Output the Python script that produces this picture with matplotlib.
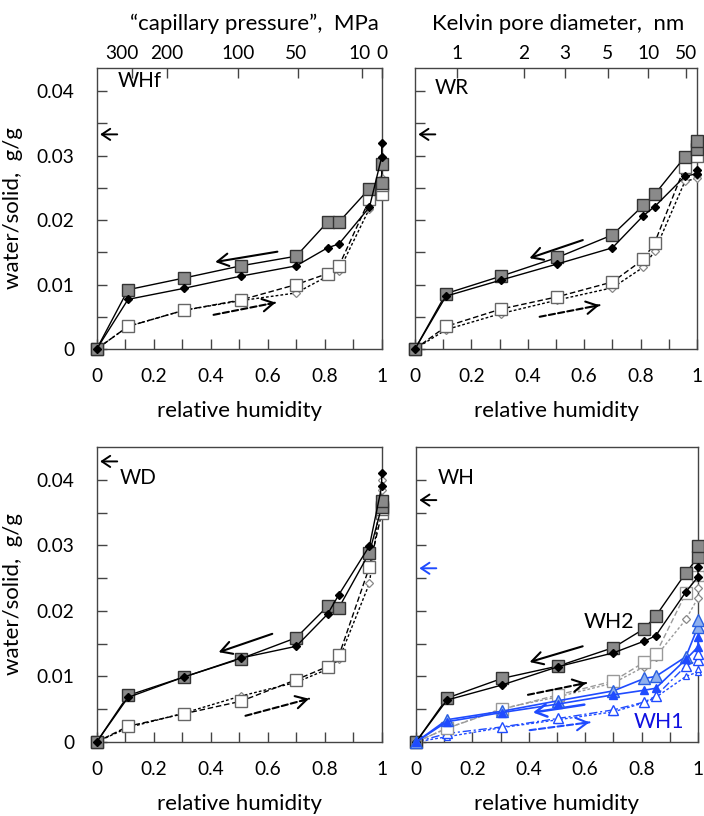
import numpy as np
import matplotlib
matplotlib.use("Agg")
import matplotlib.pyplot as plt
from matplotlib.transforms import ScaledTranslation

plt.rcParams['font.family'] = ['Lato', 'DejaVu Sans']

# ---------------- data ----------------
rh = [0, 0.11, 0.305, 0.505, 0.70, 0.81, 0.85, 0.957, 1.0, 1.0]

# WHf
whf_desA = [0, 0.0092, 0.0110, 0.0129, 0.0144, 0.0197, 0.0197, 0.0249, 0.0257, 0.0287]
whf_desB = [0, 0.0077, 0.0094, 0.0113, 0.0129, 0.0157, 0.0163, 0.0220, 0.0298, 0.0319]
whf_adsA = [0, 0.0035, 0.0060, 0.0076, 0.0100, 0.0117, 0.0129, 0.0232, 0.0240, 0.0255]
whf_adsB = [0, 0.0035, 0.0060, 0.0075, 0.0087, 0.0113, 0.0121, 0.0218, 0.0250, 0.0265]
# WR
wr_desA = [0, 0.0086, 0.0113, 0.0142, 0.0177, 0.0223, 0.0240, 0.0298, 0.0311, 0.0322]
wr_desB = [0, 0.0082, 0.0107, 0.0132, 0.0157, 0.0207, 0.0221, 0.0268, 0.0272, 0.0278]
wr_adsA = [0, 0.0035, 0.0062, 0.0081, 0.0104, 0.0139, 0.0165, 0.0283, 0.0300, 0.0315]
wr_adsB = [0, 0.0030, 0.0055, 0.0076, 0.0095, 0.0127, 0.0152, 0.0260, 0.0265, 0.0270]
# WD
wd_desA = [0, 0.0071, 0.0099, 0.0127, 0.0159, 0.0207, 0.0205, 0.0289, 0.0359, 0.0368]
wd_desB = [0, 0.0068, 0.0099, 0.0128, 0.0146, 0.0195, 0.0225, 0.0299, 0.0390, 0.0410]
wd_adsA = [0, 0.0024, 0.0043, 0.0062, 0.0095, 0.0115, 0.0132, 0.0267, 0.0349, 0.0355]
wd_adsB = [0, 0.0022, 0.0044, 0.0070, 0.0091, 0.0111, 0.0126, 0.0242, 0.0385, 0.0400]
# WH2
wh2_desA = [0, 0.0067, 0.0097, 0.0116, 0.0144, 0.0173, 0.0192, 0.0258, 0.0282, 0.0299]
wh2_desB = [0, 0.0064, 0.0087, 0.0115, 0.0136, 0.0154, 0.0162, 0.0229, 0.0252, 0.0267]
wh2_adsA = [0, 0.0021, 0.0050, 0.0072, 0.0093, 0.0122, 0.0134, 0.0227, 0.0255, 0.0270]
wh2_adsB = [0, 0.0021, 0.0051, 0.0069, 0.0090, 0.0115, 0.0130, 0.0187, 0.0220, 0.0235]
# WH1
wh1_desA = [0, 0.0034, 0.0047, 0.0063, 0.0078, 0.0097, 0.0100, 0.0130, 0.0176, 0.0186]
wh1_desB = [0, 0.0031, 0.0045, 0.0058, 0.0072, 0.0079, 0.0082, 0.0126, 0.0145, 0.0160]
wh1_adsA = [0, 0.0013, 0.0023, 0.0036, 0.0049, 0.0061, 0.0070, 0.0116, 0.0125, 0.0135]
wh1_adsB = [0, 0.0008, 0.0022, 0.0034, 0.0046, 0.0060, 0.0068, 0.0100, 0.0107, 0.0112]

# direction arrows: (x_start, y_start, x_end, y_end)
arr_des = {'WHf': (0.634, 0.0151, 0.416, 0.0135), 'WR': (0.595, 0.0169, 0.406, 0.0141),
           'WD': (0.616, 0.0165, 0.428, 0.0137), 'WH': (0.591, 0.0146, 0.403, 0.0122)}
arr_ads = {'WHf': (0.41, 0.0053, 0.628, 0.0072), 'WR': (0.442, 0.0050, 0.654, 0.0068),
           'WD': (0.522, 0.0040, 0.745, 0.0066), 'WH': (0.397, 0.0072, 0.603, 0.0090)}
arr_sat = {'WHf': 0.0333, 'WR': 0.0333, 'WD': 0.0428, 'WH': 0.0369}
wh1_arr_des = (0.597, 0.0057, 0.415, 0.0045)
wh1_arr_ads = (0.403, 0.0018, 0.615, 0.0030)
wh1_sat = 0.0265

cap_p = [300, 200, 100, 50, 10, 0]           # MPa
kelvin_d = [1, 2, 3, 5, 10, 50]              # nm

x_ticks = [0, 0.2, 0.4, 0.6, 0.8, 1.0]
x_ticklabels = ['0', '0.2', '0.4', '0.6', '0.8', '1']
y_ticks = [0, 0.01, 0.02, 0.03, 0.04]
y_ticklabels = ['0', '0.01', '0.02', '0.03', '0.04']

# ---------------- figure ----------------
W, H = 704, 816
fig = plt.figure(figsize=(W / 100, H / 100), dpi=100)

def px_axes(l, t, r, b):
    return fig.add_axes([l / W, 1 - b / H, (r - l) / W, (b - t) / H])

ax_tl = px_axes(96.7, 68, 381.7, 349)
ax_tr = px_axes(415, 68, 697, 349)
ax_bl = px_axes(96.7, 447, 381.7, 742)
ax_br = px_axes(416, 447, 698, 742)

spine_col = '#444444'
FS = 13.8
LFS = 16

def style(ax, ymax, ylabels):
    ax.set_xlim(0, 1)
    ax.set_ylim(0, ymax)
    for s in ax.spines.values():
        s.set_color(spine_col)
        s.set_linewidth(1.0)
    ax.set_xticks(x_ticks)
    ax.set_xticklabels(x_ticklabels)
    ax.set_xticks(np.arange(0.1, 1.0, 0.1), minor=True)
    ax.set_yticks(y_ticks)
    ax.set_yticks(np.arange(0.005, ymax, 0.01), minor=True)
    if ylabels:
        ax.set_yticklabels(y_ticklabels)
        ax.set_ylabel('water/solid,  g/g', fontsize=LFS)
        ax.yaxis.set_label_coords(-0.258, 0.5)
    else:
        ax.set_yticklabels([])
    ax.tick_params(axis='both', which='both', direction='in', color=spine_col,
                   labelsize=FS, top=False, right=False, width=1.0, length=7)
    ax.tick_params(axis='x', pad=14)
    ax.tick_params(axis='y', pad=16)
    ax.set_xlabel('relative humidity', fontsize=LFS, labelpad=11)

def plot_set(ax, desA, desB, adsA, adsB, gray=False):
    lc_ads = '#9a9a9a' if gray else 'k'
    ax.plot(rh, adsB, ls=(0, (2, 1.5)), color=lc_ads, lw=1.0, marker='D', ms=4.5,
            mfc='white', mec='#888888', mew=0.9, clip_on=False, zorder=3)
    ax.plot(rh, adsA, ls=(0, (4, 2)), color=lc_ads, lw=1.0, marker='s', ms=8,
            mfc='white', mec='#666666' if not gray else '#999999', mew=1.0,
            clip_on=False, zorder=3)
    ax.plot(rh, desA, ls='-', color='k', lw=1.0, marker='s', ms=8,
            mfc='#8a8a8a', mec='#333333', mew=1.0, clip_on=False, zorder=4)
    ax.plot(rh, desB, ls='-', color='k', lw=1.0, marker='D', ms=4,
            mfc='k', mec='k', clip_on=False, zorder=5)

HEAD = '->,head_length=0.8,head_width=0.45'

def solid_arrow(ax, a, color, lw=1.5):
    ax.annotate('', xy=a[2:], xytext=a[:2],
                arrowprops=dict(arrowstyle=HEAD, color=color, lw=lw,
                                shrinkA=0, shrinkB=0))

def dashed_arrow(ax, a, color, lw=1.5):
    x0, y0, x1, y1 = a
    ax.annotate('', xy=(x1, y1), xytext=(x0, y0),
                arrowprops=dict(arrowstyle='-', color=color, lw=lw, ls=(0, (3, 1.5)),
                                shrinkA=0, shrinkB=0))
    f = 0.12
    ax.annotate('', xy=(x1, y1), xytext=(x1 - f * (x1 - x0), y1 - f * (y1 - y0)),
                arrowprops=dict(arrowstyle=HEAD, color=color, lw=lw,
                                shrinkA=0, shrinkB=0))

def sat_arrow(ax, level, color):
    ax.annotate('', xy=(0.012, level), xytext=(0.072, level),
                arrowprops=dict(arrowstyle='->,head_length=0.6,head_width=0.4',
                                color=color, lw=1.4, shrinkA=0, shrinkB=0))

def arrows(ax, key, color='k'):
    solid_arrow(ax, arr_des[key], color)
    dashed_arrow(ax, arr_ads[key], color)
    sat_arrow(ax, arr_sat[key], color)

# ---- top-left WHf ----
style(ax_tl, 0.0436, True)
plot_set(ax_tl, whf_desA, whf_desB, whf_adsA, whf_adsB)
arrows(ax_tl, 'WHf')
ax_tl.text(0.075, 0.0416, 'WHf', fontsize=FS + 1, va='center', ha='left')

# ---- top-right WR ----
style(ax_tr, 0.0436, False)
plot_set(ax_tr, wr_desA, wr_desB, wr_adsA, wr_adsB)
arrows(ax_tr, 'WR')
ax_tr.text(0.07, 0.0405, 'WR', fontsize=FS + 1, va='center', ha='left')

# ---- bottom-left WD ----
style(ax_bl, 0.045, True)
plot_set(ax_bl, wd_desA, wd_desB, wd_adsA, wd_adsB)
arrows(ax_bl, 'WD')
ax_bl.text(0.08, 0.0402, 'WD', fontsize=FS + 1, va='center', ha='left')

# ---- bottom-right WH ----
style(ax_br, 0.045, False)
blue = '#1f4bff'
ax_br.plot(rh, wh1_adsB, ls=(0, (2, 1.5)), color=blue, lw=1.0, marker='^', ms=5,
           mfc='white', mec=blue, mew=0.9, clip_on=False, zorder=3)
ax_br.plot(rh, wh1_adsA, ls=(0, (6, 2, 1.5, 2)), color=blue, lw=1.0, marker='^', ms=7.5,
           mfc='white', mec=blue, mew=1.0, clip_on=False, zorder=3)
plot_set(ax_br, wh2_desA, wh2_desB, wh2_adsA, wh2_adsB, gray=True)
ax_br.plot(rh, wh1_desA, ls='-', color=blue, lw=1.2, marker='^', ms=8.5,
           mfc='#8fb0ee', mec='#2a5fe0', mew=1.0, clip_on=False, zorder=6)
ax_br.plot(rh, wh1_desB, ls='-', color=blue, lw=1.2, marker='^', ms=5.5,
           mfc=blue, mec=blue, clip_on=False, zorder=6)
arrows(ax_br, 'WH')
solid_arrow(ax_br, wh1_arr_des, blue, lw=1.8)
dashed_arrow(ax_br, wh1_arr_ads, blue)
sat_arrow(ax_br, wh1_sat, blue)
ax_br.text(0.078, 0.0402, 'WH', fontsize=FS + 1, va='center', ha='left')
ax_br.text(0.685, 0.0183, 'WH2', fontsize=FS + 1.5, va='center', ha='center')
ax_br.text(0.862, 0.0030, 'WH1', fontsize=FS + 1.5, va='center', ha='center', color='#1010e0')

# ---- secondary top axes ----
def top_axis(ax, pos, labels, title, title_x, shifts):
    tw = ax.twiny()
    tw.set_xlim(ax.get_xlim())
    tw.set_xticks(pos)
    tw.set_xticklabels(labels)
    tw.tick_params(axis='x', direction='in', length=7, color=spine_col,
                   labelsize=FS, pad=4, width=1.0)
    for s in tw.spines.values():
        s.set_visible(False)
    for lab, dx in zip(tw.get_xticklabels(), shifts):
        if dx:
            lab.set_transform(lab.get_transform() +
                              ScaledTranslation(dx / 100, 0, fig.dpi_scale_trans))
    tw.set_xlabel(title, fontsize=LFS)
    tw.xaxis.set_label_coords(title_x, 1.135)

cap_pos = [float(np.exp(-p / 143.0)) for p in cap_p]
kel_pos = [float(np.exp(-1.9 / d)) for d in kelvin_d]
top_axis(ax_tl, cap_pos, [str(p) for p in cap_p], '\u201ccapillary pressure\u201d,  MPa',
         0.555, [-10, 0, 0, -2, -3, 0])
top_axis(ax_tr, kel_pos, [str(d) for d in kelvin_d], 'Kelvin pore diameter,  nm',
         0.507, [0, 0, 0, 0, 0, 0])

fig.savefig('out.png', dpi=100, facecolor='white')
